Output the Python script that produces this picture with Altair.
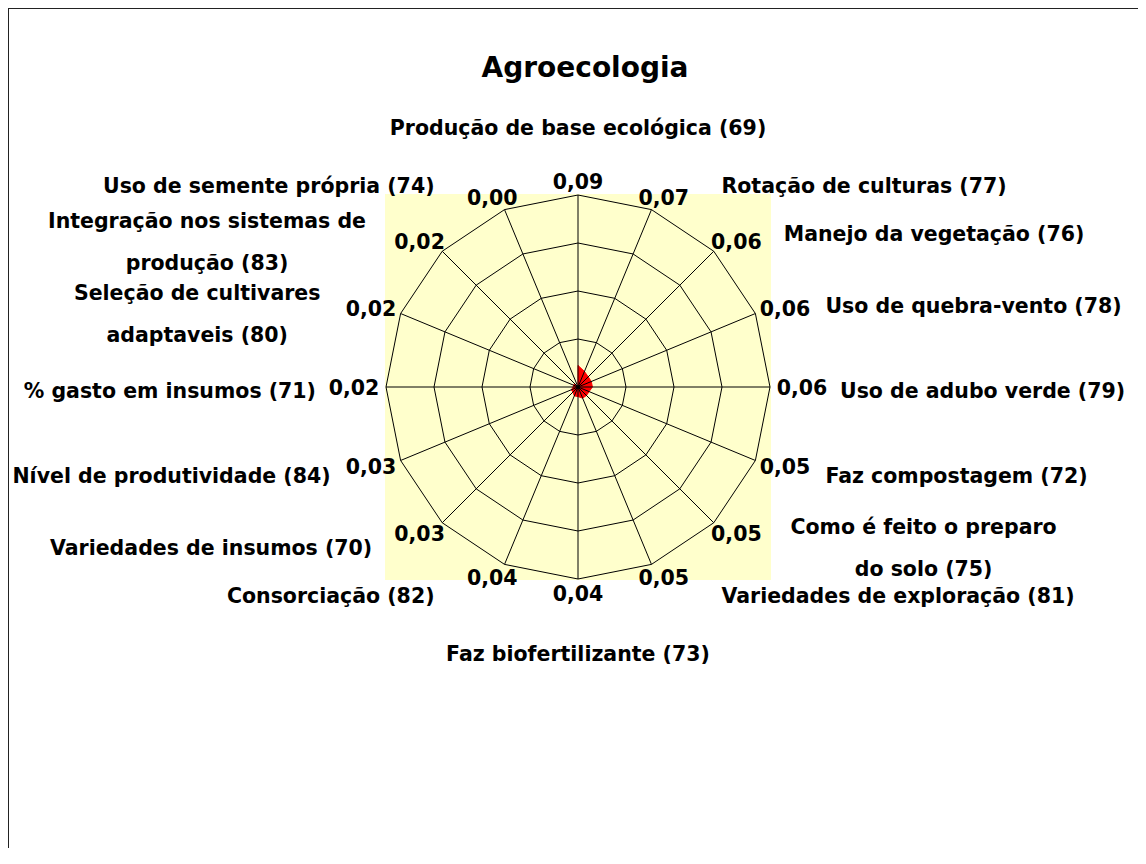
import math
import altair as alt
import pandas as pd

# ---------------- data ----------------
categories = [
    "Produção de base ecológica (69)",
    "Rotação de culturas (77)",
    "Manejo da vegetação (76)",
    "Uso de quebra-vento (78)",
    "Uso de adubo verde (79)",
    "Faz compostagem (72)",
    "Como é feito o preparo\ndo solo (75)",
    "Variedades de exploração (81)",
    "Faz biofertilizante (73)",
    "Consorciação (82)",
    "Variedades de insumos (70)",
    "Nível de produtividade (84)",
    "% gasto em insumos (71)",
    "Seleção de cultivares\nadaptaveis (80)",
    "Integração nos sistemas de\nprodução (83)",
    "Uso de semente própria (74)",
]
values = [0.09, 0.07, 0.06, 0.06, 0.06, 0.05, 0.05, 0.05,
          0.04, 0.04, 0.03, 0.03, 0.02, 0.02, 0.02, 0.00]
ring_levels = [0.2, 0.4, 0.6, 0.8]
title_text = "Agroecologia"

# ---------------- layout ----------------
W, H = 1130, 840          # plot area in px
CX, CY = 570, 379         # radar centre in px (from top-left of plot area)
R_PX = 192                # outer ring radius in px
R_MAX = max(ring_levels)
U = R_MAX / R_PX          # data units per pixel
FONT = "DejaVu Sans"
FS = 20.5                 # label font size
LH = 42                   # line height of wrapped labels
GAP = 70                  # px between outer vertex and category label

n = len(categories)
ang = [2 * math.pi * i / n for i in range(n)]
sn = [math.sin(a) for a in ang]
cs = [math.cos(a) for a in ang]

xs = alt.Scale(domain=[-CX * U, (W - CX) * U], nice=False, zero=False)
ys = alt.Scale(domain=[-(H - CY) * U, CY * U], nice=False, zero=False)

def X(f):
    return alt.X(f, type="quantitative", scale=xs, axis=None)

def Y(f):
    return alt.Y(f, type="quantitative", scale=ys, axis=None)

# background (plot area)
bg = pd.DataFrame([{"x": -R_MAX - U, "x2": R_MAX + U, "y": -R_MAX - U, "y2": R_MAX + U}])
bg_layer = alt.Chart(bg).mark_rect(color="#FFFFCC").encode(
    x=X("x"), x2="x2", y=Y("y"), y2="y2")

# rings
ring_rows = []
for L in ring_levels:
    for k in range(n + 1):
        i = k % n
        ring_rows.append({"ring": L, "o": k, "x": L * sn[i], "y": L * cs[i]})
rings = alt.Chart(pd.DataFrame(ring_rows)).mark_line(
    color="black", strokeWidth=1).encode(
    x=X("x"), y=Y("y"), detail="ring:N", order="o:Q")

# spokes
spk = pd.DataFrame({"x": [0.0] * n, "y": [0.0] * n,
                    "x2": [R_MAX * s for s in sn], "y2": [R_MAX * c for c in cs]})
spokes = alt.Chart(spk).mark_rule(color="black", strokeWidth=1).encode(
    x=X("x"), y=Y("y"), x2="x2", y2="y2")

# data polygon
poly_rows = []
for k in range(n + 1):
    i = k % n
    poly_rows.append({"o": k, "x": values[i] * sn[i], "y": values[i] * cs[i]})
poly = alt.Chart(pd.DataFrame(poly_rows)).mark_line(
    filled=True, fill="#FF0000", stroke="#FF0000", strokeWidth=1).encode(
    x=X("x"), y=Y("y"), order="o:Q")

# value labels
vl_rows = []
for i in range(n):
    vl_rows.append({"v": values[i],
                    "x": R_MAX * sn[i] + 32 * U * sn[i],
                    "y": R_MAX * cs[i] + 14 * U * cs[i]})
val_labels = alt.Chart(pd.DataFrame(vl_rows)).transform_calculate(
    lab="replace(format(datum.v, '.2f'), '.', ',')").mark_text(
    font=FONT, fontSize=FS, fontWeight="bold", color="black",
    align="center", baseline="middle", dy=2).encode(
    x=X("x"), y=Y("y"), text="lab:N")

# category labels
cl_rows = []
for i in range(n):
    lines = categories[i].split("\n")
    multi = len(lines) > 1
    half_w = max(len(s) for s in lines) * FS * 0.31
    if abs(sn[i]) > 0.01:
        sgn = 1 if sn[i] > 0 else -1
        side = "center" if multi else ("left" if sgn > 0 else "right")
        x = R_MAX * sn[i] + sgn * (GAP + (half_w if multi else 0)) * U
        y = R_MAX * cs[i] + (30 * cs[i] - 5) * U
        if multi and sgn < 0:
            y -= 8 * U
    else:
        side = "center"
        x = 0.0
        y = R_MAX * cs[i] + (66 if cs[i] > 0 else -76) * U
    cl_rows.append({"cat": categories[i], "side": side, "multi": multi, "x": x, "y": y})
cl_df = pd.DataFrame(cl_rows)

cat_layers = []
for side in ["left", "right", "center"]:
    for multi in [False, True]:
        sub = cl_df[(cl_df.side == side) & (cl_df.multi == multi)]
        if len(sub) == 0:
            continue
        cat_layers.append(
            alt.Chart(sub).mark_text(
                font=FONT, fontSize=FS, fontWeight="bold", color="black",
                align=side, baseline="middle", lineBreak="\n", lineHeight=LH,
                dy=(-LH / 2 if multi else 0)).encode(
                x=X("x"), y=Y("y"), text="cat:N"))

# frame (top and left edges of the chart border)
one = alt.Data(values=[{"a": 1}])
frame_left = alt.Chart(one).mark_rule(color="#222222", strokeWidth=2).encode(
    x=alt.value(0), y=alt.value(0), y2=alt.value(H))
frame_top = alt.Chart(one).mark_rule(color="#222222", strokeWidth=2).encode(
    x=alt.value(0), x2=alt.value(W), y=alt.value(0))

chart = alt.layer(
    bg_layer, poly, rings, spokes, val_labels, *cat_layers, frame_left, frame_top
).properties(
    width=W, height=H, padding=0, autosize=alt.AutoSizeParams(type="none"),
    title=alt.TitleParams(title_text, font=FONT, fontSize=28, fontWeight="bold",
                          color="black", anchor="middle", dx=12, dy=80)
).configure_view(stroke=None).configure(font=FONT, background="white")

chart.save("out.html", embed_options={"renderer": "svg", "actions": False})
